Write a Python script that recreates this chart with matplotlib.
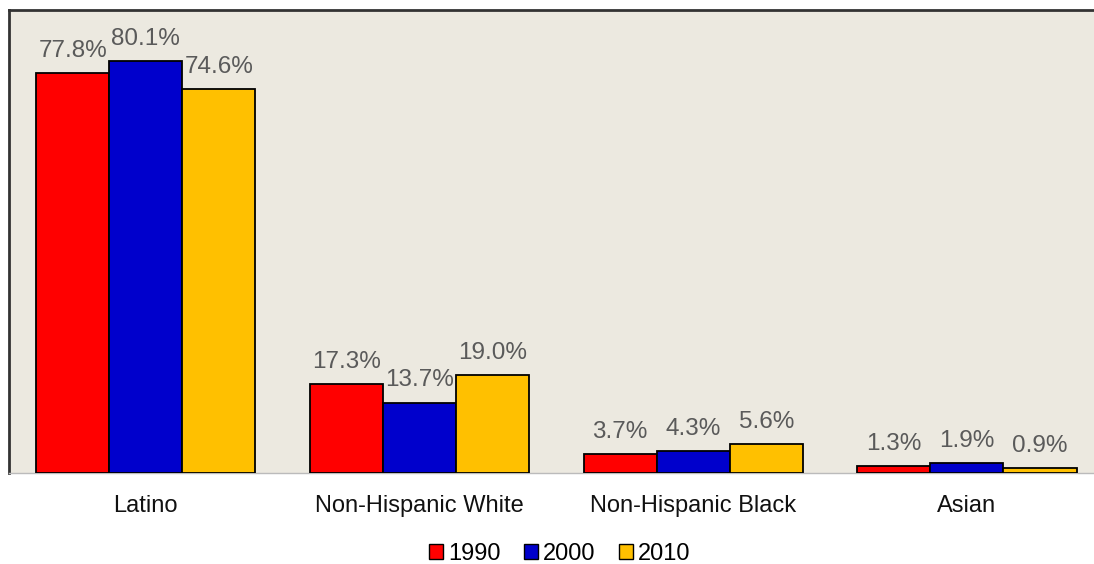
import matplotlib
matplotlib.use("Agg")
import matplotlib.pyplot as plt
from matplotlib.patches import Patch
import numpy as np

categories = ["Latino", "Non-Hispanic White", "Non-Hispanic Black", "Asian"]
years = ["1990", "2000", "2010"]
v1990 = [77.8, 17.3, 3.7, 1.3]
v2000 = [80.1, 13.7, 4.3, 1.9]
v2010 = [74.6, 19.0, 5.6, 0.9]
series = [v1990, v2000, v2010]
colors = ["#FF0000", "#0000CC", "#FFC000"]

plt.rcParams['font.family'] = ['Liberation Sans', 'DejaVu Sans']

fig = plt.figure(figsize=(10.94, 5.64), dpi=100)
W, H = 1094, 564
left, right, top, bottom = 9, 9 + 4 * 273.7, 10, 473
ax = fig.add_axes([left / W, 1 - bottom / H, (right - left) / W, (bottom - top) / H])
ax.set_facecolor("#ECE9E0")

x = np.arange(len(categories))
bw = 0.267
for i, (vals, col) in enumerate(zip(series, colors)):
    pos = x + (i - 1) * bw
    bars = ax.bar(pos, vals, width=bw, color=col, edgecolor="black", linewidth=1.3, zorder=3)
    for b, v in zip(bars, vals):
        ax.annotate(f"{v:.1f}%", (b.get_x() + b.get_width() / 2, v),
                    xytext=(0, 8), textcoords="offset points",
                    ha="center", va="bottom", fontsize=17.5, color="#5A5A5A")

ax.set_xlim(-0.5, 3.5)
ax.set_ylim(0, 90)
ax.set_xticks(x)
ax.set_xticklabels(categories, fontsize=17, color="#111111")
ax.tick_params(axis="x", length=0, pad=16)
ax.set_yticks([])
ax.spines["top"].set_color("#333333")
ax.spines["top"].set_linewidth(2)
ax.spines["left"].set_color("#333333")
ax.spines["left"].set_linewidth(2)
ax.spines["right"].set_visible(False)
ax.spines["bottom"].set_color("#BBBBBB")
ax.spines["bottom"].set_linewidth(1)

handles = [Patch(facecolor=c, edgecolor="black", linewidth=1) for c in colors]
fig.legend(handles, years, loc="center", bbox_to_anchor=(560 / W, 1 - 554 / H),
           ncol=3, frameon=False, fontsize=17, handlelength=0.6, handleheight=0.6,
           handletextpad=0.2, columnspacing=1.0)

fig.savefig("out.png", dpi=100, facecolor="white")
